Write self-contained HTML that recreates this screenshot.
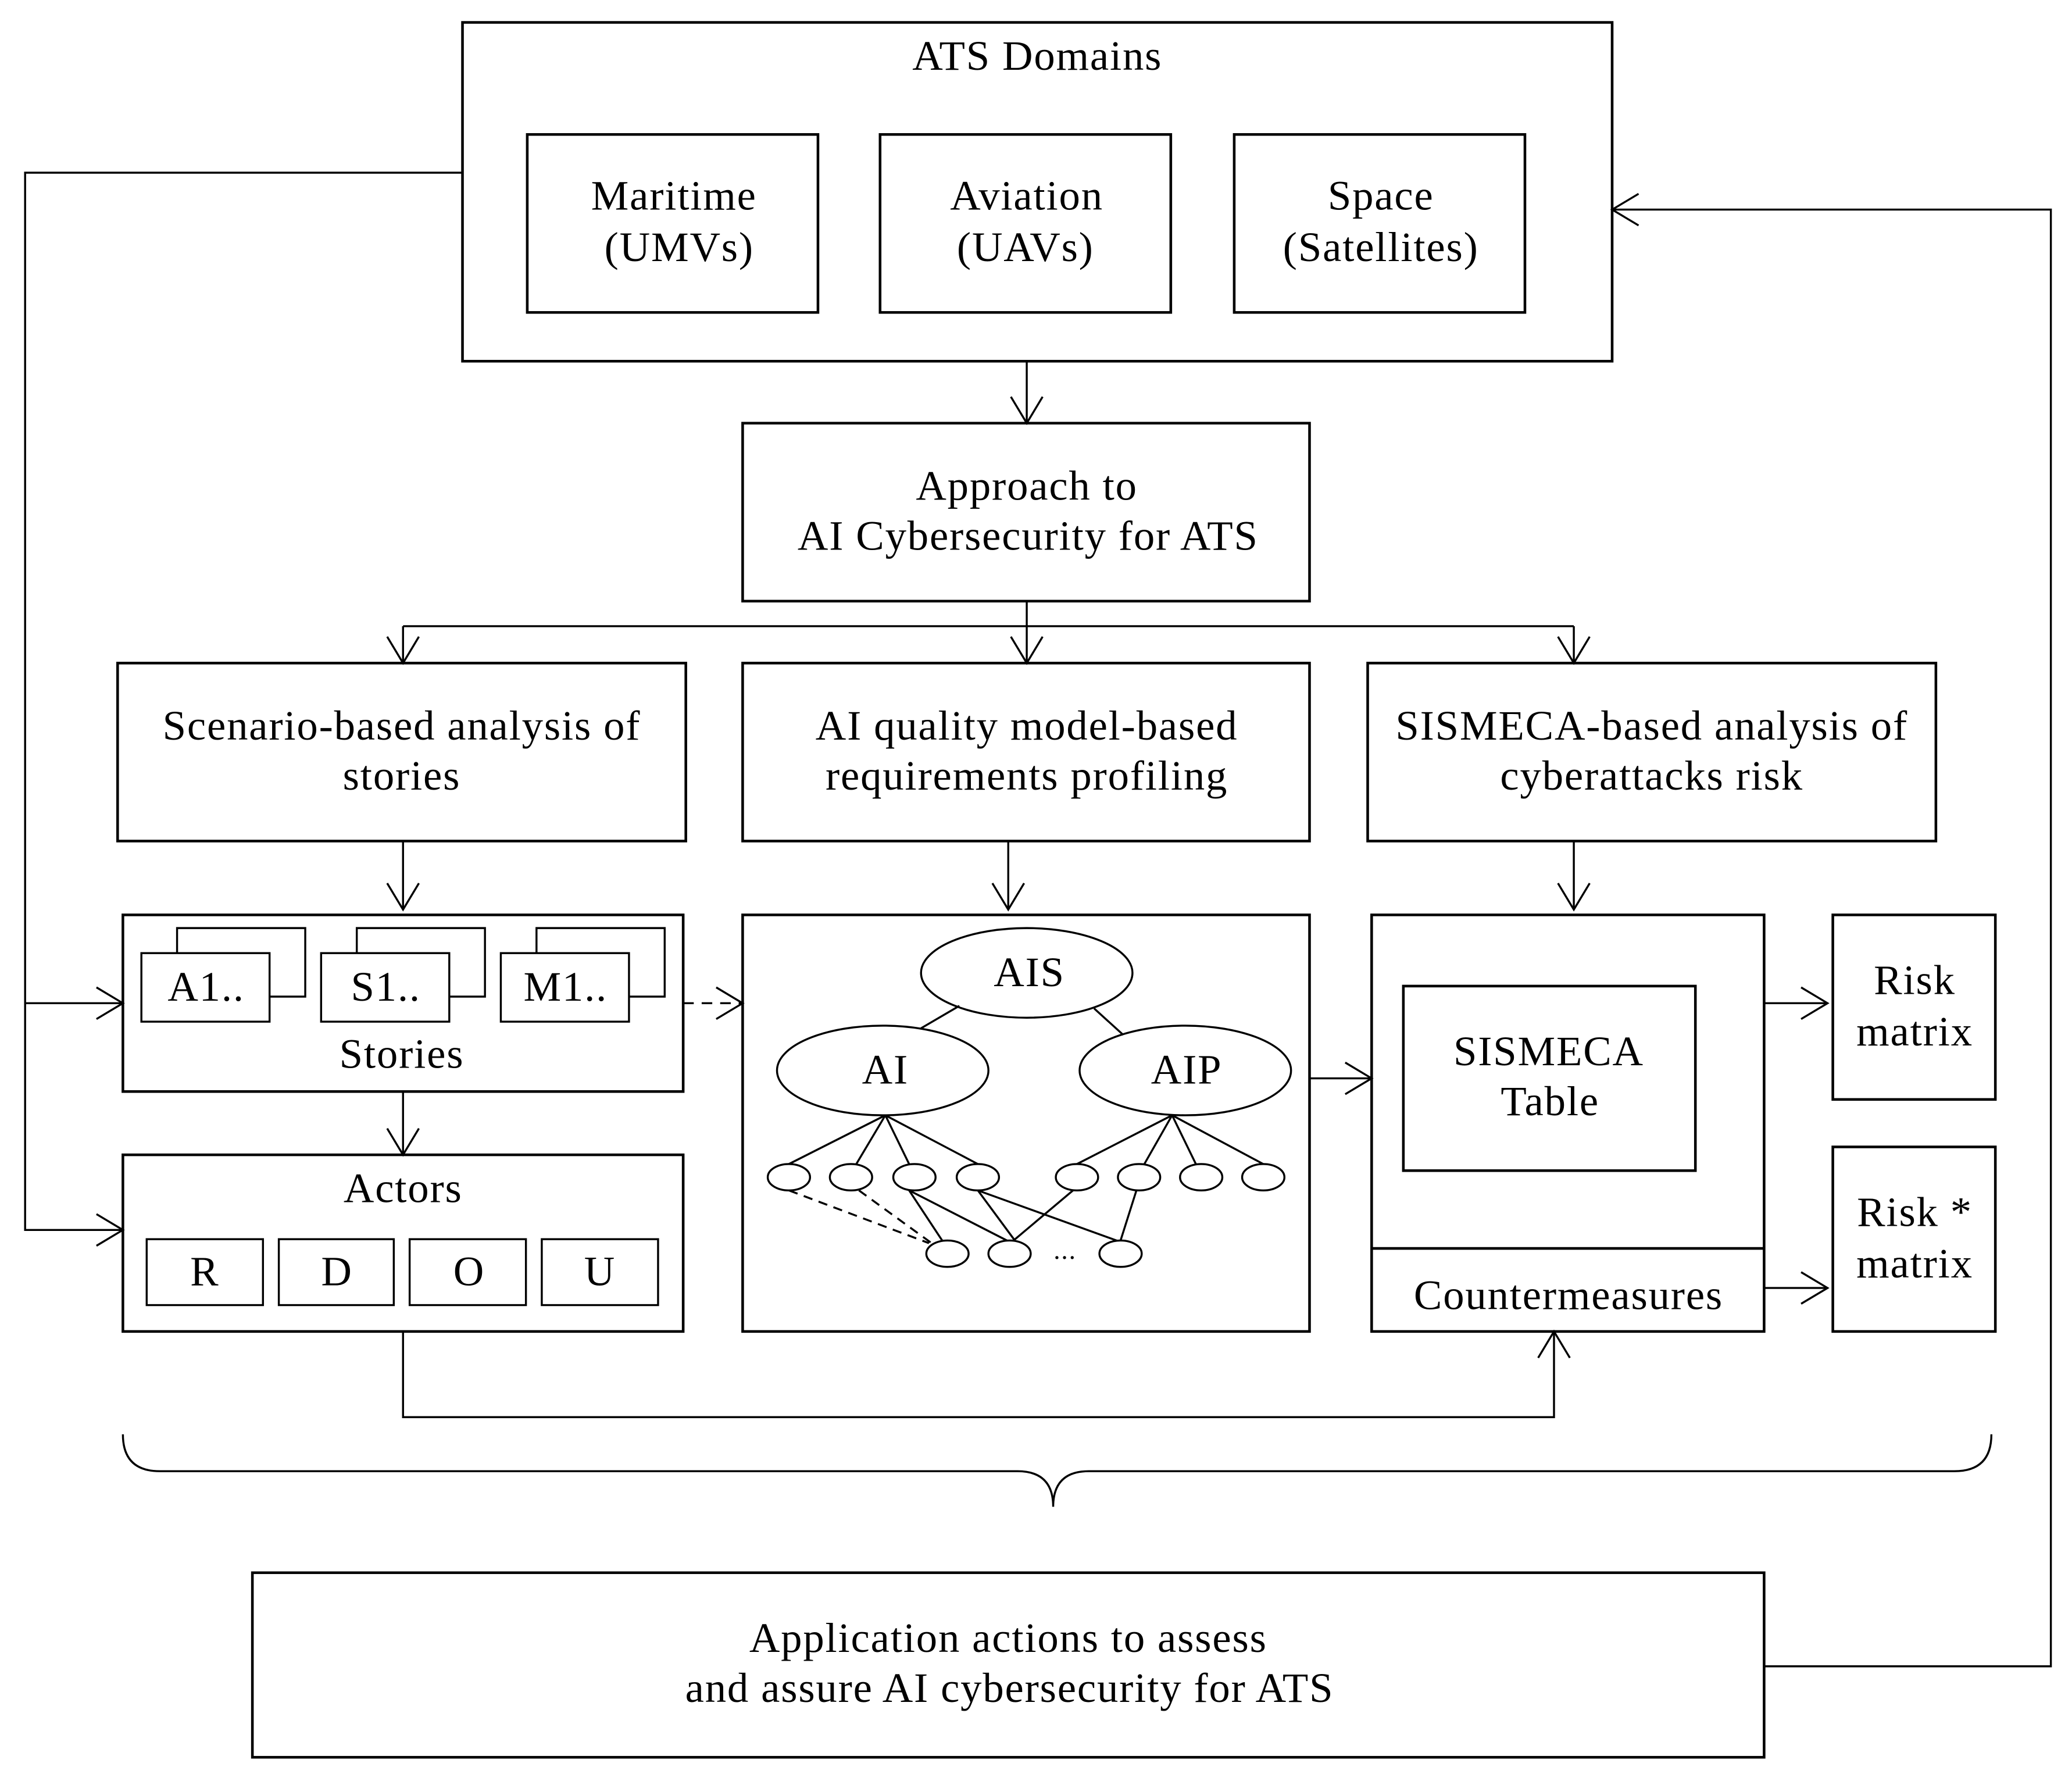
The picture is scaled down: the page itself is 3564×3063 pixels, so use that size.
<!DOCTYPE html>
<html><head><meta charset="utf-8"><style>
html,body{margin:0;padding:0;background:#fff}
svg{display:block}
text{font-family:"Liberation Serif",serif;font-size:32px;letter-spacing:0.8px;fill:#000;text-anchor:middle}
</style></head><body>
<svg width="3564" height="3063" viewBox="0 0 1568 1351" preserveAspectRatio="none" xmlns="http://www.w3.org/2000/svg">
<defs>
<marker id="a" markerUnits="userSpaceOnUse" markerWidth="30" markerHeight="30" refX="22" refY="15" orient="auto">
<path d="M2,3 L22,15 L2,27" fill="none" stroke="#000" stroke-width="1.5"/>
</marker>
</defs>
<g fill="none" stroke="#000" stroke-width="2">
<rect x="350" y="17" width="870" height="257"/>
<rect x="399" y="102" width="220" height="135"/>
<rect x="666" y="102" width="220" height="135"/>
<rect x="934" y="102" width="220" height="135"/>
<rect x="562" y="321" width="429" height="135"/>
<rect x="89" y="503" width="430" height="135"/>
<rect x="562" y="503" width="429" height="135"/>
<rect x="1035" y="503" width="430" height="135"/>
<rect x="93" y="694" width="424" height="134"/>
<rect x="93" y="876" width="424" height="134"/>
<rect x="562" y="694" width="429" height="316"/>
<rect x="1038" y="694" width="297" height="316"/>
<line x1="1038" y1="947" x2="1335" y2="947"/>
<rect x="1062" y="748" width="221" height="140"/>
<rect x="1387" y="694" width="123" height="140"/>
<rect x="1387" y="870" width="123" height="140"/>
<rect x="191" y="1193" width="1144" height="140"/>
</g>
<g fill="#fff" stroke="#000" stroke-width="1.5">
<path d="M134,723 V704 H231 V756 H204"/><rect x="107" y="723" width="97" height="52"/>
<path d="M270,723 V704 H367 V756 H340"/><rect x="243" y="723" width="97" height="52"/>
<path d="M406,723 V704 H503 V756 H476"/><rect x="379" y="723" width="97" height="52"/>
<rect x="111" y="940" width="88" height="50"/>
<rect x="211" y="940" width="87" height="50"/>
<rect x="310" y="940" width="88" height="50"/>
<rect x="410" y="940" width="88" height="50"/>
</g>
<g fill="none" stroke="#000" stroke-width="1.5">
<line x1="777" y1="274" x2="777" y2="321" marker-end="url(#a)"/>
<line x1="777" y1="456" x2="777" y2="475"/>
<line x1="305" y1="475" x2="1191" y2="475"/>
<line x1="305" y1="475" x2="305" y2="503" marker-end="url(#a)"/>
<line x1="777" y1="475" x2="777" y2="503" marker-end="url(#a)"/>
<line x1="1191" y1="475" x2="1191" y2="503" marker-end="url(#a)"/>
<line x1="305" y1="638" x2="305" y2="690" marker-end="url(#a)"/>
<line x1="763" y1="638" x2="763" y2="690" marker-end="url(#a)"/>
<line x1="1191" y1="638" x2="1191" y2="690" marker-end="url(#a)"/>
<line x1="305" y1="828" x2="305" y2="876" marker-end="url(#a)"/>
<line x1="517" y1="761" x2="562" y2="761" stroke-dasharray="8,6" marker-end="url(#a)"/>
<line x1="991" y1="818" x2="1038" y2="818" marker-end="url(#a)"/>
<line x1="1335" y1="761" x2="1383" y2="761" marker-end="url(#a)"/>
<line x1="1335" y1="977" x2="1383" y2="977" marker-end="url(#a)"/>
<polyline points="350,131 19,131 19,933 93,933" marker-end="url(#a)"/>
<line x1="19" y1="761" x2="93" y2="761" marker-end="url(#a)"/>
<polyline points="305,1010 305,1075 1176,1075 1176,1010" marker-end="url(#a)"/>
<polyline points="1335,1264 1552,1264 1552,159 1220,159" marker-end="url(#a)"/>
<path d="M93,1088 Q93,1116 121,1116 H770 Q797,1116 797,1143 Q797,1116 824,1116 H1479 Q1507,1116 1507,1088"/>
<ellipse cx="777" cy="738" rx="80" ry="34"/>
<ellipse cx="668" cy="812" rx="80" ry="34"/>
<ellipse cx="897" cy="812" rx="80" ry="34"/>
<line x1="726" y1="763" x2="697" y2="780"/>
<line x1="828" y1="765" x2="850" y2="785"/>
<g>
<ellipse cx="597" cy="893" rx="16" ry="10"/><ellipse cx="644" cy="893" rx="16" ry="10"/>
<ellipse cx="692" cy="893" rx="16" ry="10"/><ellipse cx="740" cy="893" rx="16" ry="10"/>
<ellipse cx="815" cy="893" rx="16" ry="10"/><ellipse cx="862" cy="893" rx="16" ry="10"/>
<ellipse cx="909" cy="893" rx="16" ry="10"/><ellipse cx="956" cy="893" rx="16" ry="10"/>
<ellipse cx="717" cy="951" rx="16" ry="10"/><ellipse cx="764" cy="951" rx="16" ry="10"/>
<ellipse cx="848" cy="951" rx="16" ry="10"/>
</g>
<line x1="670" y1="846" x2="597" y2="883"/><line x1="670" y1="846" x2="648" y2="883"/>
<line x1="670" y1="846" x2="688" y2="883"/><line x1="670" y1="846" x2="740" y2="883"/>
<line x1="887" y1="846" x2="815" y2="883"/><line x1="887" y1="846" x2="866" y2="883"/>
<line x1="887" y1="846" x2="905" y2="883"/><line x1="887" y1="846" x2="956" y2="883"/>
<line x1="597" y1="903" x2="703" y2="943" stroke-dasharray="7,5"/>
<line x1="650" y1="903" x2="705" y2="943" stroke-dasharray="7,5"/>
<line x1="688" y1="903" x2="713" y2="941"/><line x1="688" y1="903" x2="762" y2="941"/>
<line x1="740" y1="903" x2="768" y2="941"/><line x1="740" y1="903" x2="845" y2="941"/>
<line x1="812" y1="903" x2="767" y2="941"/><line x1="860" y1="903" x2="848" y2="941"/>
</g>
<text x="785" y="53">ATS Domains</text>
<text x="510" y="159">Maritime</text><text x="514" y="198">(UMVs)</text>
<text x="777" y="159">Aviation</text><text x="776" y="198">(UAVs)</text>
<text x="1045" y="159">Space</text><text x="1045" y="198">(Satellites)</text>
<text x="777" y="379">Approach to</text><text x="778" y="417">AI Cybersecurity for ATS</text>
<text x="304" y="561">Scenario-based analysis of</text><text x="304" y="599">stories</text>
<text x="777" y="561">AI quality model-based</text><text x="777" y="599">requirements profiling</text>
<text x="1250" y="561">SISMECA-based analysis of</text><text x="1250" y="599">cyberattacks risk</text>
<text x="156" y="759">A1..</text><text x="292" y="759">S1..</text><text x="428" y="759">M1..</text>
<text x="304" y="810">Stories</text>
<text x="305" y="912">Actors</text>
<text x="155" y="975">R</text><text x="255" y="975">D</text><text x="355" y="975">O</text><text x="454" y="975">U</text>
<text x="779" y="748">AIS</text><text x="670" y="822">AI</text><text x="898" y="822">AIP</text>
<text x="806" y="955" style="font-size:20px">...</text>
<text x="1172" y="808">SISMECA</text><text x="1173" y="846">Table</text>
<text x="1187" y="993">Countermeasures</text>
<text x="1449" y="754">Risk</text><text x="1449" y="793">matrix</text>
<text x="1449" y="930">Risk *</text><text x="1449" y="969">matrix</text>
<text x="763" y="1253">Application actions to assess</text>
<text x="764" y="1291">and assure AI cybersecurity for ATS</text>
</svg>
</body></html>
